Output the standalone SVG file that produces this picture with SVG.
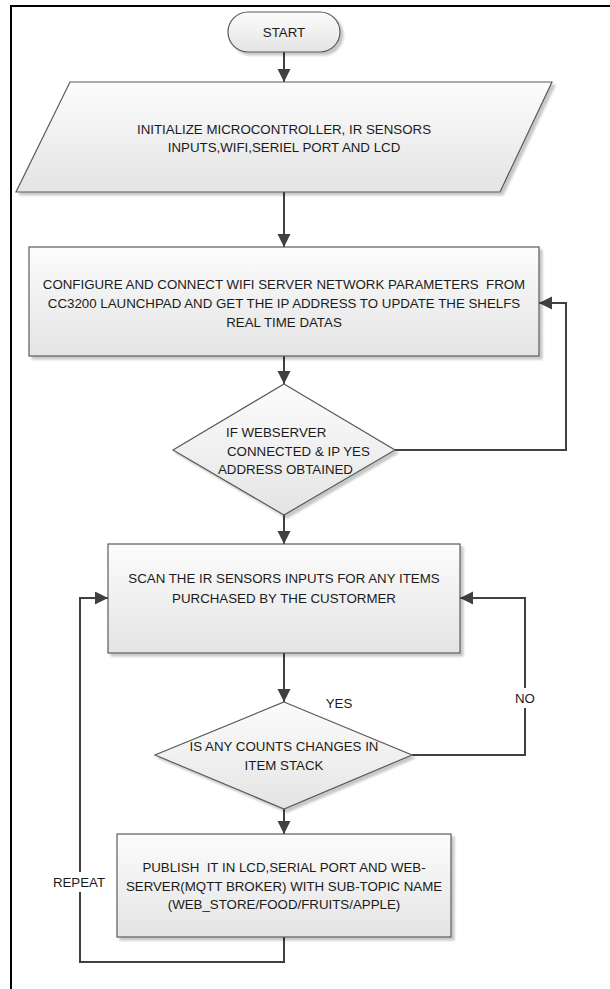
<svg xmlns="http://www.w3.org/2000/svg" width="610" height="989" viewBox="0 0 610 989">
<defs>
<linearGradient id="g" x1="0" y1="0" x2="0" y2="1">
<stop offset="0" stop-color="#fcfcfc"/>
<stop offset="1" stop-color="#e4e4e4"/>
</linearGradient>
<filter id="sh" x="-5%" y="-5%" width="115%" height="120%">
<feDropShadow dx="3" dy="3" stdDeviation="1" flood-color="#000" flood-opacity="0.22"/>
</filter>
<marker id="ah" markerUnits="userSpaceOnUse" markerWidth="14" markerHeight="14" refX="13" refY="6.5" orient="auto">
<path d="M0,0 L13,6.5 L0,13 z" fill="#404040"/>
</marker>
<style>
.shape{fill:url(#g);stroke:#5a5a5a;stroke-width:1.2;filter:url(#sh)}
.t{font-family:"Liberation Sans",Arial,sans-serif;font-size:13.3px;fill:#1a1a1a;text-anchor:middle}
.ts{font-family:"Liberation Sans",Arial,sans-serif;font-size:13.3px;fill:#1a1a1a;text-anchor:start}
.c{fill:none;stroke:#404040;stroke-width:2}
.ca{fill:none;stroke:#404040;stroke-width:2;marker-end:url(#ah)}
.frame{fill:none;stroke:#000;stroke-width:2}
.lbg{fill:#fff}
</style>
</defs>
<g id="frame">
<line class="frame" x1="11" y1="6" x2="610" y2="6"/>
<line class="frame" x1="11" y1="5" x2="11" y2="989"/>
</g>
<g id="connectors">
<line class="ca" x1="284" y1="52" x2="284" y2="82"/>
<line class="ca" x1="284" y1="192" x2="284" y2="247"/>
<line class="ca" x1="284" y1="356" x2="284" y2="384"/>
<polyline class="ca" points="395,450 566,450 566,303 539,303"/>
<line class="ca" x1="284" y1="515" x2="284" y2="544"/>
<line class="ca" x1="284" y1="653" x2="284" y2="702"/>
<polyline class="ca" points="412,755 525,755 525,598 460,598"/>
<line class="ca" x1="284" y1="809" x2="284" y2="834"/>
<polyline class="ca" points="284,937 284,962 80,962 80,598 108,598"/>
<rect class="lbg" x="513" y="688" width="24" height="20"/>
<text class="t" x="525" y="703">NO</text>
<text class="t" x="339" y="708">YES</text>
<rect class="lbg" x="54" y="872" width="52" height="20"/>
<text class="t" x="79" y="887">REPEAT</text>
</g>
<g id="start">
<rect class="shape" x="228" y="12" width="112" height="40" rx="20" ry="20"/>
<text class="t" x="284" y="37">START</text>
</g>
<g id="init">
<polygon class="shape" points="70,82 552,82 500,192 16,192"/>
<text class="t" x="284" y="134">INITIALIZE MICROCONTROLLER, IR SENSORS</text>
<text class="t" x="284" y="152">INPUTS,WIFI,SERIEL PORT AND LCD</text>
</g>
<g id="configure">
<rect class="shape" x="29" y="247" width="510" height="109"/>
<text class="t" x="284" y="289" xml:space="preserve">CONFIGURE AND CONNECT WIFI SERVER NETWORK PARAMETERS  FROM</text>
<text class="t" x="284" y="308">CC3200 LAUNCHPAD AND GET THE IP ADDRESS TO UPDATE THE SHELFS</text>
<text class="t" x="284" y="327">REAL TIME DATAS</text>
</g>
<g id="decision1">
<polygon class="shape" points="284,384 395,450 284,515 173,450"/>
<text class="ts" x="226" y="437">IF WEBSERVER</text>
<text class="ts" x="227" y="456">CONNECTED &amp; IP YES</text>
<text class="ts" x="218" y="474">ADDRESS OBTAINED</text>
</g>
<g id="scan">
<rect class="shape" x="108" y="544" width="352" height="109"/>
<text class="t" x="284" y="583">SCAN THE IR SENSORS INPUTS FOR ANY ITEMS</text>
<text class="t" x="284" y="603">PURCHASED BY THE CUSTORMER</text>
</g>
<g id="decision2">
<polygon class="shape" points="284,702 412,755 284,809 155,755"/>
<text class="t" x="284" y="751">IS ANY COUNTS CHANGES IN</text>
<text class="t" x="284" y="770">ITEM STACK</text>
</g>
<g id="publish">
<rect class="shape" x="117" y="834" width="334" height="103"/>
<text class="t" x="284" y="872" xml:space="preserve">PUBLISH  IT IN LCD,SERIAL PORT AND WEB-</text>
<text class="t" x="284" y="891">SERVER(MQTT BROKER) WITH SUB-TOPIC NAME</text>
<text class="t" x="284" y="909">(WEB_STORE/FOOD/FRUITS/APPLE)</text>
</g>
</svg>
